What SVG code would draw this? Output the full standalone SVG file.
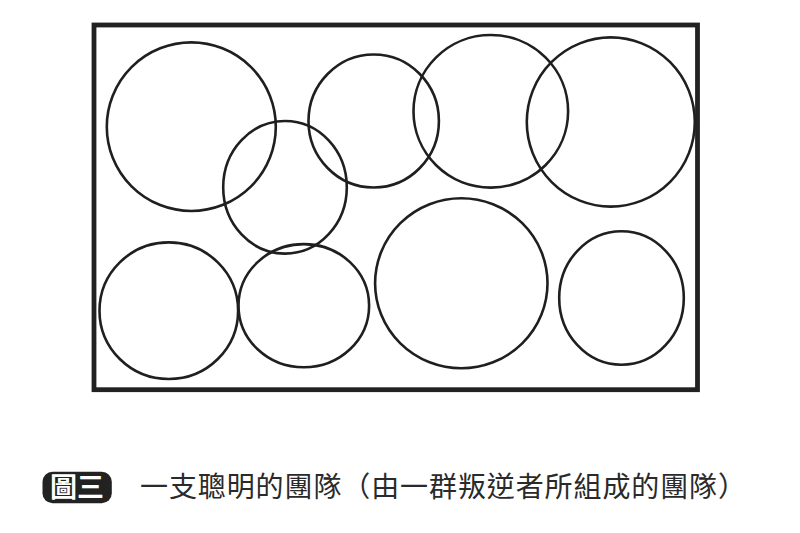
<svg xmlns="http://www.w3.org/2000/svg" width="800" height="533" viewBox="0 0 800 533">
<style>
.c{fill:none;stroke:#1f1f1f;stroke-width:2.6}
.cap{font-family:"Noto Sans CJK TC","Noto Sans CJK SC",sans-serif;font-size:28px;fill:#2a2a2a}
.badge{font-family:"Noto Sans CJK TC","Noto Sans CJK SC",sans-serif;font-size:27px;fill:#fff;font-weight:bold}
</style>
<rect width="800" height="533" fill="#fff"/>
<g id="frame"><rect x="94" y="25" width="603.5" height="364.7" fill="none" stroke="#222" stroke-width="4.8"/></g>
<g id="circles">
<g id="c1"><ellipse class="c" cx="191.3" cy="126.7" rx="84.5" ry="84.3"/></g>
<g id="c2"><ellipse class="c" cx="285" cy="187.3" rx="61.8" ry="66.3"/></g>
<g id="c3"><ellipse class="c" cx="373.7" cy="121" rx="65.2" ry="66.5"/></g>
<g id="c4"><ellipse class="c" cx="490.8" cy="111.3" rx="77.3" ry="76.3"/></g>
<g id="c5"><ellipse class="c" cx="610.8" cy="122" rx="84" ry="84.6"/></g>
<g id="c6"><ellipse class="c" cx="168.8" cy="310.7" rx="69.3" ry="68.3"/></g>
<g id="c7"><ellipse class="c" cx="303.8" cy="305.7" rx="65.3" ry="61.6"/></g>
<g id="c8"><ellipse class="c" cx="461.3" cy="283.3" rx="86.2" ry="85"/></g>
<g id="c9"><ellipse class="c" cx="621.5" cy="298" rx="62.3" ry="66.8"/></g>
</g>
<g id="connectors"/>
<g id="caption">
<rect x="42.5" y="471.7" width="69.3" height="31.6" rx="10" fill="#222"/>
<text class="badge" x="77" y="497" text-anchor="middle">圖三</text>
<text class="cap" x="140" y="496.5" textLength="606" lengthAdjust="spacing">一支聰明的團隊（由一群叛逆者所組成的團隊）</text>
</g>
</svg>
